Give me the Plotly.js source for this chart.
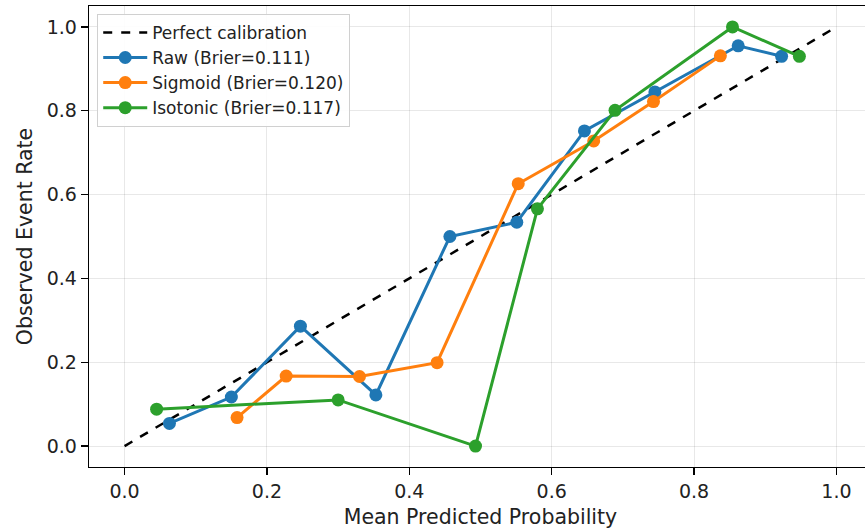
<!DOCTYPE html>
<html>
<head>
<meta charset="utf-8">
<script src="https://cdn.plot.ly/plotly-3.0.1.min.js"></script>
<style>
html,body{margin:0;padding:0;overflow:hidden;background:#fff;}
#chart{width:880px;height:532px;}
</style>
</head>
<body>
<div id="chart"></div>
<script>
const perfectX = [0, 1];
const perfectY = [0, 1];

const rawX = [0.063, 0.150, 0.247, 0.353, 0.457, 0.551, 0.646, 0.745, 0.862, 0.923];
const rawY = [0.054, 0.117, 0.286, 0.122, 0.500, 0.534, 0.752, 0.845, 0.955, 0.930];

const sigX = [0.158, 0.227, 0.330, 0.439, 0.553, 0.659, 0.743, 0.837];
const sigY = [0.068, 0.167, 0.166, 0.199, 0.626, 0.728, 0.822, 0.931];

const isoX = [0.045, 0.300, 0.493, 0.580, 0.689, 0.854, 0.948];
const isoY = [0.088, 0.110, 0.000, 0.566, 0.801, 1.000, 0.930];

const names = ["Perfect calibration", "Raw (Brier=0.111)", "Sigmoid (Brier=0.120)", "Isotonic (Brier=0.117)"];
const colors = ["#000000", "#1f77b4", "#ff7f0e", "#2ca02c"];

const font = "DejaVu Sans, sans-serif";

function series(x, y, name, color) {
  return {
    x: x, y: y, name: name, type: "scatter", mode: "lines+markers",
    line: {color: color, width: 3},
    marker: {color: color, size: 13}
  };
}

const data = [
  {x: perfectX, y: perfectY, name: names[0], type: "scatter", mode: "lines",
   line: {color: colors[0], width: 2.5, dash: "dash"}},
  series(rawX, rawY, names[1], colors[1]),
  series(sigX, sigY, names[2], colors[2]),
  series(isoX, isoY, names[3], colors[3])
];

const axisCommon = {
  showgrid: true, gridcolor: "rgba(0,0,0,0.09)", gridwidth: 1,
  zeroline: false, showline: true, linecolor: "#000", linewidth: 1.3, mirror: true,
  ticks: "outside", ticklen: 7, tickwidth: 1.3, tickcolor: "#000",
  tickfont: {family: font, size: 19, color: "#222"},
  tick0: 0, dtick: 0.2, tickformat: ".1f"
};

const layout = {
  width: 880, height: 532,
  margin: {l: 89, r: 8, t: 6, b: 65},
  paper_bgcolor: "#fff", plot_bgcolor: "#fff",
  font: {family: font, color: "#222"},
  showlegend: true,
  legend: {
    x: 0.0105, y: 0.983, xanchor: "left", yanchor: "top",
    bgcolor: "rgba(255,255,255,0.9)", bordercolor: "#d0d0d0", borderwidth: 1,
    font: {family: font, size: 17, color: "#222"},
    itemwidth: 44,
    tracegroupgap: 0
  },
  xaxis: Object.assign({}, axisCommon, {
    range: [-0.05, 1.05],
    title: {text: "Mean Predicted Probability", font: {family: font, size: 20.5, color: "#222"}, standoff: 8}
  }),
  yaxis: Object.assign({}, axisCommon, {
    range: [-0.05, 1.05],
    title: {text: "Observed Event Rate", font: {family: font, size: 20.5, color: "#222"}, standoff: 8}
  })
};

Plotly.newPlot("chart", data, layout, {displayModeBar: false, staticPlot: true});
</script>
</body>
</html>
